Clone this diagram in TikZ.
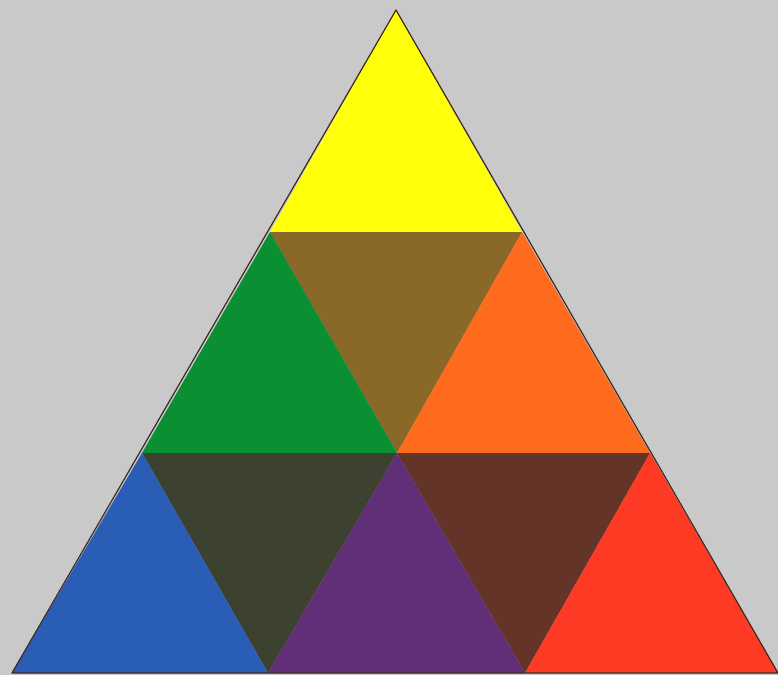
\documentclass[tikz,border=0pt]{standalone}
\definecolor{bg}{HTML}{C9C9C9}
\definecolor{cyel}{HTML}{FFFF0A}
\definecolor{colive}{HTML}{8A6828}
\definecolor{cgreen}{HTML}{0A8F32}
\definecolor{corange}{HTML}{FF6B1C}
\definecolor{cblue}{HTML}{2A5DB6}
\definecolor{cdolive}{HTML}{3D412F}
\definecolor{cpurple}{HTML}{612F78}
\definecolor{cdbrown}{HTML}{643429}
\definecolor{cred}{HTML}{FF3A24}
\definecolor{edge}{HTML}{3A2A20}
\begin{document}
\begin{tikzpicture}[x=1pt,y=-1pt,tri/.style={line join=round}]
\fill[bg] (0,0) rectangle (778,675);
\useasboundingbox (0,0) rectangle (778,675);
\coordinate (A) at (396,10);
\coordinate (B1) at (270,232);
\coordinate (B2) at (522,232);
\coordinate (C1) at (142,453);
\coordinate (C2) at (397,453);
\coordinate (C3) at (650,453);
\coordinate (D1) at (12,673);
\coordinate (D2) at (268,673);
\coordinate (D3) at (525,673);
\coordinate (D4) at (778,673);
\fill[cyel] (A) -- (B1) -- (B2) -- cycle;
\fill[colive] (B1) -- (B2) -- (C2) -- cycle;
\fill[cgreen] (B1) -- (C1) -- (C2) -- cycle;
\fill[corange] (B2) -- (C2) -- (C3) -- cycle;
\fill[cdolive] (C1) -- (C2) -- (D2) -- cycle;
\fill[cdbrown] (C2) -- (C3) -- (D3) -- cycle;
\fill[cblue] (C1) -- (D1) -- (D2) -- cycle;
\fill[cpurple] (C2) -- (D2) -- (D3) -- cycle;
\fill[cred] (C3) -- (D3) -- (D4) -- cycle;
\draw[edge,line width=1.2pt,line join=round] (A) -- (D1) -- (D4) -- cycle;
\end{tikzpicture}
\end{document}
